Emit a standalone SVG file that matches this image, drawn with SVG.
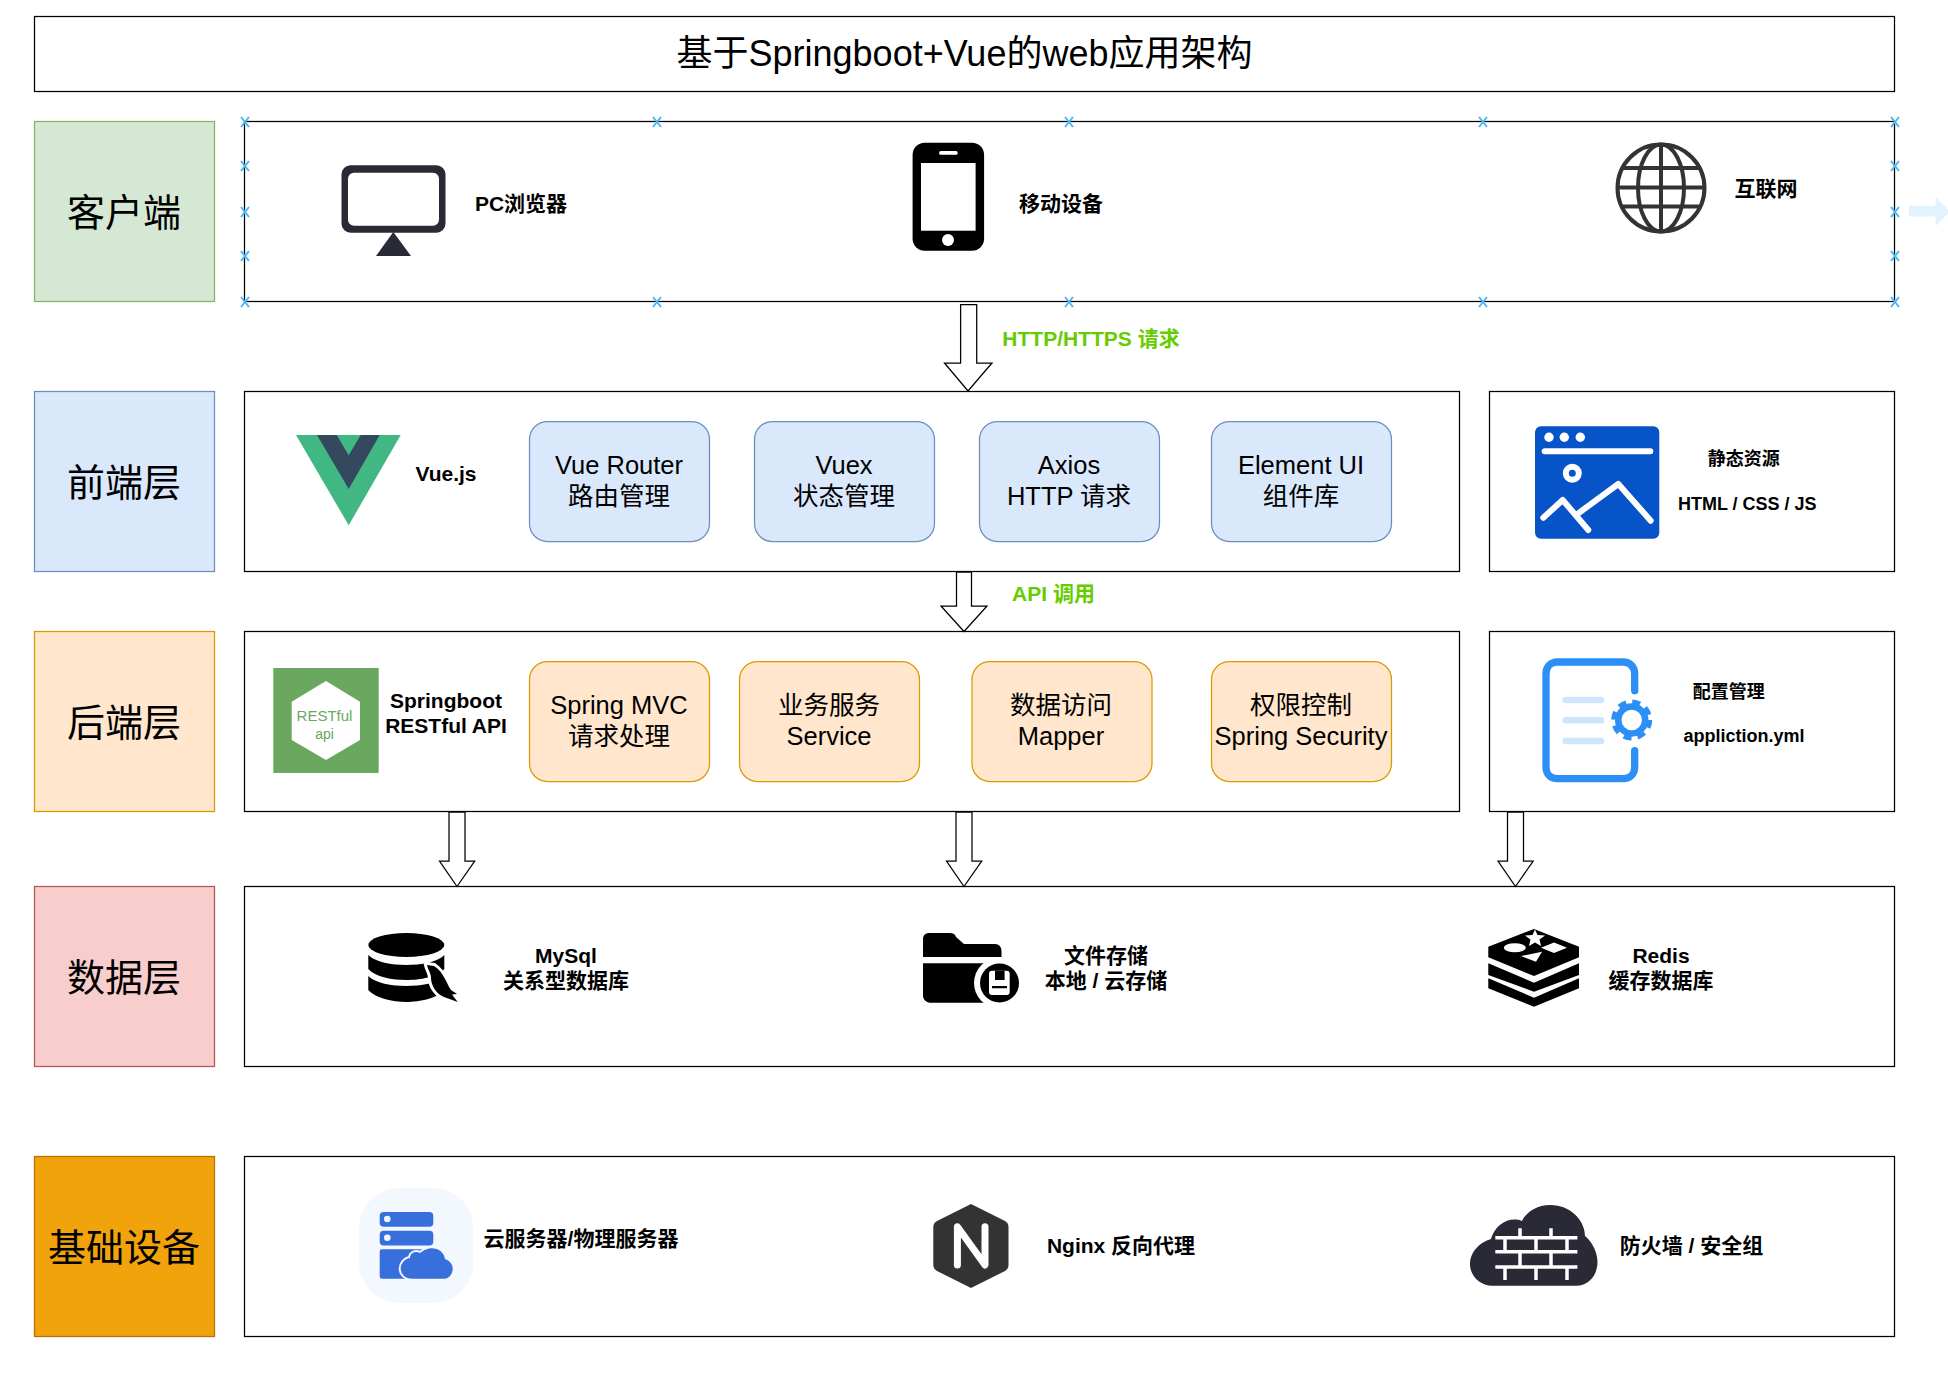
<svg xmlns="http://www.w3.org/2000/svg" width="1948" height="1388" viewBox="0 0 1948 1388">
<style>
text{font-family:"Liberation Sans","Noto Sans CJK SC",sans-serif;text-anchor:middle;fill:#000}
.box{fill:#fff;stroke:#000;stroke-width:1.25}
.lab{font-size:38px}
.node{font-size:25.5px}
.b21{font-size:21px;font-weight:700}
.b18{font-size:18px;font-weight:700}
.g{fill:#66cc00}
.fe{fill:#dae8fc;stroke:#6c8ebf;stroke-width:1.25}
.be{fill:#ffe6cc;stroke:#d79b00;stroke-width:1.25}
.arrow{fill:#fff;stroke:#000;stroke-width:1.25}
.x{stroke:#4ab8f5;stroke-width:2;fill:none}
</style>
<defs>
<path id="xm" class="x" d="M-4-5L4 5M4-5L-4 5"/>
</defs>
<rect width="1948" height="1388" fill="#fff"/>

<g id="title"><rect class="box" x="34.5" y="16.5" width="1860" height="75"/><text x="964.5" y="66" style="font-size:36px">基于Springboot+Vue的web应用架构</text></g>

<g id="label-client"><rect x="34.5" y="121.5" width="180" height="180" fill="#d5e8d4" stroke="#82b366" stroke-width="1.25"/><text class="lab" x="124" y="226">客户端</text></g>
<g id="label-frontend"><rect x="34.5" y="391.5" width="180" height="180" fill="#dae8fc" stroke="#6c8ebf" stroke-width="1.25"/><text class="lab" x="124" y="496">前端层</text></g>
<g id="label-backend"><rect x="34.5" y="631.5" width="180" height="180" fill="#ffe6cc" stroke="#d79b00" stroke-width="1.25"/><text class="lab" x="124" y="736">后端层</text></g>
<g id="label-data"><rect x="34.5" y="886.5" width="180" height="180" fill="#f8cecc" stroke="#b85450" stroke-width="1.25"/><text class="lab" x="124" y="991">数据层</text></g>
<g id="label-infra"><rect x="34.5" y="1156.5" width="180" height="180" fill="#f0a30a" stroke="#bd7000" stroke-width="1.25"/><text class="lab" x="124" y="1261">基础设备</text></g>

<g id="panel-client"><rect class="box" x="244.5" y="121.5" width="1650" height="180"/></g>
<g id="panel-frontend"><rect class="box" x="244.5" y="391.5" width="1215" height="180"/></g>
<g id="panel-static"><rect class="box" x="1489.5" y="391.5" width="405" height="180"/></g>
<g id="panel-backend"><rect class="box" x="244.5" y="631.5" width="1215" height="180"/></g>
<g id="panel-config"><rect class="box" x="1489.5" y="631.5" width="405" height="180"/></g>
<g id="panel-data"><rect class="box" x="244.5" y="886.5" width="1650" height="180"/></g>
<g id="panel-infra"><rect class="box" x="244.5" y="1156.5" width="1650" height="180"/></g>

<g id="client-markers">
<use href="#xm" x="245" y="122"/><use href="#xm" x="657" y="122"/><use href="#xm" x="1069" y="122"/><use href="#xm" x="1483" y="122"/><use href="#xm" x="1895" y="122"/>
<use href="#xm" x="245" y="302"/><use href="#xm" x="657" y="302"/><use href="#xm" x="1069" y="302"/><use href="#xm" x="1483" y="302"/><use href="#xm" x="1895" y="302"/>
<use href="#xm" x="245" y="166"/><use href="#xm" x="245" y="212"/><use href="#xm" x="245" y="256"/>
<use href="#xm" x="1895" y="166"/><use href="#xm" x="1895" y="212"/><use href="#xm" x="1895" y="256"/>
<path d="M1909 205.7H1935.5V197L1950 211.5L1935.5 226.5V216.5H1909Z" fill="#e3f3fd"/>
</g>

<g id="pc">
<rect x="341.500" y="165.300" width="104" height="67.400" rx="9" fill="#2a2a36"/>
<rect x="348" y="172.700" width="91" height="53" rx="6" fill="#fff"/>
<path d="M393.3 232L411 256H376Z" fill="#2a2a36"/>
<text class="b21" x="521" y="211">PC浏览器</text>
</g>
<g id="mobile">
<rect x="912.600" y="142.7" width="71.5" height="108" rx="12" fill="#000"/>
<rect x="921" y="163" width="54.6" height="67.7" fill="#fff"/>
<rect x="939.2" y="151" width="18.4" height="3.8" rx="1.5" fill="#fff"/>
<circle cx="948" cy="240" r="6" fill="#fff"/>
<text class="b21" x="1061" y="211">移动设备</text>
</g>
<g id="internet" fill="none" stroke="#333" stroke-width="4">
<circle cx="1661" cy="188" r="43.5"/>
<ellipse cx="1661" cy="188" rx="23" ry="43.5"/>
<path d="M1661 144.500V231.500M1622 168H1700M1617.500 187.500H1704.500M1622 206.500H1700"/>
<text class="b21" x="1766" y="196" stroke="none">互联网</text>
</g>

<g id="vue">
<path d="M296 435H400.700L348.700 525.300Z" fill="#41b883"/>
<path d="M317 435H336.700L348.700 455.300L360.700 435H379.700L348.700 489Z" fill="#35495e"/>
<text class="b21" x="446" y="481">Vue.js</text>
</g>
<g id="vue-router"><rect class="fe" x="529.5" y="421.500" width="180" height="120" rx="18"/><text class="node" x="619" y="474">Vue Router</text><text class="node" x="619" y="505">路由管理</text></g>
<g id="vuex"><rect class="fe" x="754.500" y="421.500" width="180" height="120" rx="18"/><text class="node" x="844" y="474">Vuex</text><text class="node" x="844" y="505">状态管理</text></g>
<g id="axios"><rect class="fe" x="979.500" y="421.500" width="180" height="120" rx="18"/><text class="node" x="1069" y="474">Axios</text><text class="node" x="1069" y="505">HTTP 请求</text></g>
<g id="element-ui"><rect class="fe" x="1211.500" y="421.500" width="180" height="120" rx="18"/><text class="node" x="1301" y="474">Element UI</text><text class="node" x="1301" y="505">组件库</text></g>

<g id="static">
<rect x="1535" y="426.300" width="124.300" height="112.400" rx="6" fill="#0654c8"/>
<g fill="#fff"><circle cx="1549" cy="437.300" r="4.700"/><circle cx="1564.300" cy="437.300" r="4.700"/><circle cx="1580.300" cy="437.300" r="4.700"/></g>
<g fill="none" stroke="#fff" stroke-width="6" stroke-linecap="round" stroke-linejoin="round">
<path d="M1544.700 451.300H1650.300"/>
<circle cx="1572.300" cy="473.300" r="6.500"/>
<path d="M1543.300 517.700L1562.700 500L1588.300 530M1578.300 513.300L1618.300 484L1650.700 520.700"/>
</g>
<text class="b18" x="1743.700" y="465">静态资源</text>
<text class="b18" x="1747.300" y="510">HTML / CSS / JS</text>
</g>

<g id="restful">
<rect x="273.300" y="668" width="105.400" height="105" fill="#6aa85f"/>
<path d="M326 681L360 701.700V740L326 760L291.700 740V701.700Z" fill="#fff"/>
<text x="324.500" y="721" style="font-size:15px;fill:#6aa85f">RESTful</text>
<text x="324.500" y="739" style="font-size:14px;fill:#6aa85f">api</text>
<text class="b21" x="446" y="708">Springboot</text>
<text class="b21" x="446" y="733">RESTful API</text>
</g>
<g id="spring-mvc"><rect class="be" x="529.500" y="661.500" width="180" height="120" rx="18"/><text class="node" x="619" y="714">Spring MVC</text><text class="node" x="619" y="745">请求处理</text></g>
<g id="service"><rect class="be" x="739.500" y="661.500" width="180" height="120" rx="18"/><text class="node" x="829" y="714">业务服务</text><text class="node" x="829" y="745">Service</text></g>
<g id="mapper"><rect class="be" x="972" y="661.500" width="180" height="120" rx="18"/><text class="node" x="1061" y="714">数据访问</text><text class="node" x="1061" y="745">Mapper</text></g>
<g id="security"><rect class="be" x="1211.500" y="661.500" width="180" height="120" rx="18"/><text class="node" x="1301" y="714">权限控制</text><text class="node" x="1301" y="745">Spring Security</text></g>

<g id="config">
<path d="M1634.700 690.700V674C1634.700 667 1630 662 1623 662H1557.500C1550.500 662 1546 667 1546 674V767C1546 774 1550.500 778.700 1557.500 778.700H1623C1630 778.700 1634.700 774 1634.700 767V750.700" fill="none" stroke="#2b8ff5" stroke-width="7.300" stroke-linecap="round"/>
<path d="M1565.500 700H1601M1565.500 720.300H1601M1565.500 741H1601" stroke="#cfe5fd" stroke-width="6.500" stroke-linecap="round"/>
<circle cx="1631.700" cy="720" r="13.500" fill="none" stroke="#2b8ff5" stroke-width="6.500"/>
<circle cx="1631.700" cy="720" r="18" fill="none" stroke="#2b8ff5" stroke-width="5" stroke-dasharray="8 6.140"/>
<text class="b18" x="1728.700" y="698">配置管理</text>
<text class="b18" x="1744" y="742">appliction.yml</text>
</g>

<g id="mysql">
<ellipse cx="406.300" cy="945" rx="38" ry="12" fill="#000"/>
<path d="M368.300 955C375 962 392 965 406.300 965S438 962 444.300 955V969C438 977 420 980 406.300 980S375 977 368.300 969Z" fill="#000"/>
<path d="M368.300 976C375 983 392 986 406.300 986S438 983 444.300 976V990C438 998 420 1002 406.300 1002S375 998 368.300 990Z" fill="#000"/>
<path d="M427 965L434 966C444 972 447 985 451 990L457 994L452 994.500L457.700 1002L444 997C436 994 431 985 431 978C431 973 428 970 427 965Z" fill="#000" stroke="#fff" stroke-width="6" paint-order="stroke"/>
<text class="b21" x="566" y="963">MySql</text>
<text class="b21" x="566" y="988">关系型数据库</text>
</g>
<g id="files">
<path d="M923 957V939C923 935 926 933 929 933H950C953 933 955 934 956 937L964 944H995C999 944 1001.500 947 1001.500 951V957Z" fill="#000"/>
<path d="M923 963.300H990V1002.700H930C926 1002.700 923 999 923 996Z" fill="#000"/>
<circle cx="999.500" cy="983" r="25.500" fill="#fff"/>
<circle cx="999.500" cy="983" r="19.500" fill="#000"/>
<rect x="989" y="970.700" width="20.700" height="24.300" rx="3" fill="#fff"/>
<path d="M995 970.700H1004.600V980H995ZM992 986H1007V988.300H992Z" fill="#000"/>
<text class="b21" x="1106" y="963">文件存储</text>
<text class="b21" x="1106" y="988">本地 / 云存储</text>
</g>
<g id="redis">
<path d="M1534 929L1579 946.700V957.300L1534 976L1488.300 957.300V946.700Z" fill="#000"/>
<path d="M1488.300 963.300L1534 982.700L1579 963.300V975L1534 991.700L1488.300 975Z" fill="#000"/>
<path d="M1488.300 978.300L1534 997.700L1579 978.300V988.300L1534 1006.700L1488.300 988.300Z" fill="#000"/>
<g fill="#fff">
<ellipse cx="1514.800" cy="947.700" rx="11" ry="4.500"/>
<path d="M1535 929.500L1537.500 935L1545 935.500L1539.500 939.500L1541 946L1535 942.500L1529 946L1530.500 939.500L1525 935.500L1532.500 935Z"/>
<path d="M1554 942.400L1567 947.700L1554 953L1541 947.700Z"/>
<path d="M1521 956L1542 951.700L1536 961.700Z"/>
</g>
<text class="b21" x="1661" y="963">Redis</text>
<text class="b21" x="1661" y="988">缓存数据库</text>
</g>

<g id="cloud-server">
<rect x="359" y="1188" width="114.300" height="115" rx="40" fill="#f2f8fe"/>
<rect x="379.700" y="1212" width="53.600" height="14.700" rx="4" fill="#376fdc"/>
<rect x="379.700" y="1230.700" width="53.600" height="14.700" rx="4" fill="#376fdc"/>
<circle cx="387.300" cy="1219" r="3.300" fill="#f2f8fe"/>
<circle cx="387.300" cy="1237.700" r="3.300" fill="#f2f8fe"/>
<path d="M382 1249.300H425V1278.700H382C380.500 1278.700 379.700 1278 379.700 1276V1252C379.700 1250 380.500 1249.300 382 1249.300Z" fill="#376fdc"/>
<path d="M412 1278.700H444C450 1278.700 452.700 1273 452.700 1268.700C452.700 1263 448 1260 445 1259C444 1252 438 1248.300 432 1248.300C427 1248.300 423 1251 420 1253C413 1250 410 1255 410 1258C404 1259 400.700 1264 400.700 1268.500C400.700 1274 405 1278.700 412 1278.700Z" fill="#376fdc" stroke="#f2f8fe" stroke-width="4" paint-order="stroke"/>
<text class="b21" x="581" y="1246">云服务器/物理服务器</text>
</g>
<g id="nginx">
<path d="M971 1204L1005 1221Q1008.500 1223 1008.500 1227V1265Q1008.500 1268.700 1005 1271L971 1288L937 1271Q933.300 1268.700 933.300 1265V1227Q933.300 1223 937 1221Z" fill="#333"/>
<path d="M957.400 1265V1226.700L985 1265V1226.700" fill="none" stroke="#fff" stroke-width="7" stroke-linecap="round" stroke-linejoin="round"/>
<text class="b21" x="1121" y="1253">Nginx 反向代理</text>
</g>
<g id="firewall">
<path d="M1492 1285.700H1576C1590 1285.700 1597.500 1274 1597.500 1262C1597.500 1250 1590 1240 1585 1236C1585 1220 1570 1205 1550.400 1205C1535 1205 1525 1214 1522 1221C1510 1216 1495 1224 1491 1239C1480 1242 1470 1252 1470 1264C1470 1276 1480 1285.700 1492 1285.700Z" fill="#2a2a36"/>
<path d="M1495.300 1237.700H1577.400M1495.300 1251.700H1577.400M1495.300 1267H1577.400M1520 1228.300V1237.700M1551 1228.300V1237.700M1505 1237.700V1251.700M1536 1237.700V1251.700M1567 1237.700V1251.700M1520 1251.700V1267M1551 1251.700V1267M1505 1267V1280M1536 1267V1280M1567 1267V1280" fill="none" stroke="#fff" stroke-width="3.500"/>
<text class="b21" x="1691.500" y="1253">防火墙 / 安全组</text>
</g>

<g id="connectors">
<path class="arrow" d="M960.600 304.500H976.700V363H992L968 391L944.500 363H960.600Z"/>
<path class="arrow" d="M956.500 572H971.500V606H987L964 631.500L941 606H956.500Z"/>
<path class="arrow" d="M449 812H465V861H474.700L457 886.500L439.500 861H449Z"/>
<path class="arrow" d="M956 812H972V861H981.700L964 886.500L946.500 861H956Z"/>
<path class="arrow" d="M1507.500 812H1523.500V861H1533.200L1515.500 886.500L1498 861H1507.500Z"/>
<text class="b21 g" style="fill:#66cc00" x="1091" y="346">HTTP/HTTPS 请求</text>
<text class="b21 g" style="fill:#66cc00" x="1053.500" y="601">API 调用</text>
</g>
</svg>
